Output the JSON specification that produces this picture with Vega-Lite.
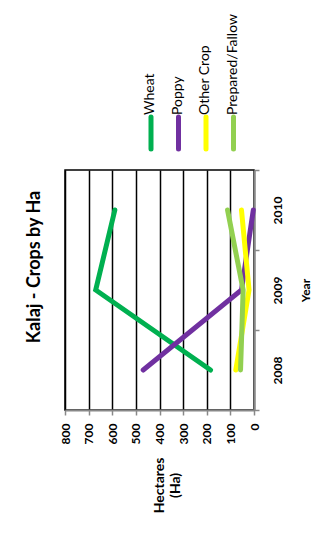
{
  "$schema": "https://vega.github.io/schema/vega-lite/v6.json",
  "width": 189,
  "height": 240,
  "autosize": "none",
  "padding": {"left": 65, "top": 170, "right": 80, "bottom": 132},
  "background": "white",
  "title": {
    "text": "Kalaj - Crops by Ha",
    "orient": "left",
    "anchor": "middle",
    "angle": -90,
    "font": "Lato",
    "fontSize": 18,
    "fontWeight": "bold",
    "color": "black",
    "offset": 15,
    "dx": 23
  },
  "data": {
    "values": [
      {"crop": "Wheat", "year": "2008", "ha": 184},
      {"crop": "Wheat", "year": "2009", "ha": 670},
      {"crop": "Wheat", "year": "2010", "ha": 589},
      {"crop": "Poppy", "year": "2008", "ha": 469},
      {"crop": "Poppy", "year": "2009", "ha": 53},
      {"crop": "Poppy", "year": "2010", "ha": 3},
      {"crop": "Other Crop", "year": "2008", "ha": 77},
      {"crop": "Other Crop", "year": "2009", "ha": 21},
      {"crop": "Other Crop", "year": "2010", "ha": 53},
      {"crop": "Prepared/Fallow", "year": "2008", "ha": 57},
      {"crop": "Prepared/Fallow", "year": "2009", "ha": 46},
      {"crop": "Prepared/Fallow", "year": "2010", "ha": 112}
    ]
  },
  "mark": {"type": "line", "strokeWidth": 5, "strokeCap": "round"},
  "encoding": {
    "x": {
      "field": "ha",
      "type": "quantitative",
      "scale": {"domain": [0, 800], "reverse": true, "nice": false},
      "axis": {
        "orient": "bottom",
        "values": [0, 100, 200, 300, 400, 500, 600, 700, 800],
        "grid": true,
        "gridColor": "black",
        "gridWidth": 1.5,
        "domainColor": "#888888",
        "domainWidth": 2,
        "tickColor": "#888888",
        "tickWidth": 1.5,
        "tickSize": 5,
        "labelAngle": -90,
        "labelAlign": "right",
        "labelBaseline": "middle",
        "labelFont": "Lato",
        "labelFontWeight": "bold",
        "labelFontSize": 12,
        "labelColor": "black",
        "labelPadding": 8,
        "title": ["Hectares", "(Ha)"],
        "titleAngle": -90,
        "titleAlign": "center",
        "titleBaseline": "middle",
        "titleFont": "Lato",
        "titleFontSize": 14,
        "titleFontWeight": "bold",
        "titleColor": "black",
        "titleLineHeight": 16,
        "titlePadding": 41
      }
    },
    "y": {
      "field": "year",
      "type": "ordinal",
      "sort": "descending",
      "scale": {"type": "band", "paddingInner": 0, "paddingOuter": 0},
      "bandPosition": 0.5,
      "axis": {
        "orient": "right",
        "tickBand": "extent",
        "grid": false,
        "domainColor": "#888888",
        "domainWidth": 2,
        "tickColor": "#888888",
        "tickWidth": 1.5,
        "tickSize": 5,
        "labelAngle": -90,
        "labelAlign": "center",
        "labelBaseline": "top",
        "labelFont": "Lato",
        "labelFontWeight": "bold",
        "labelFontSize": 12,
        "labelColor": "black",
        "labelPadding": 13,
        "title": "Year",
        "titleAngle": -90,
        "titleAlign": "center",
        "titleBaseline": "top",
        "titleFont": "Lato",
        "titleFontSize": 12,
        "titleFontWeight": "bold",
        "titleColor": "black",
        "titlePadding": 17
      }
    },
    "order": {"field": "year", "type": "ordinal"},
    "color": {
      "field": "crop",
      "type": "nominal",
      "scale": {
        "domain": ["Wheat", "Poppy", "Other Crop", "Prepared/Fallow"],
        "range": ["#00B050", "#7030A0", "#FFFF00", "#92D050"]
      },
      "legend": {
        "orient": "none",
        "legendX": 79,
        "legendY": -44,
        "direction": "horizontal",
        "title": null,
        "padding": 0,
        "columnPadding": 7.5,
        "symbolType": "M0,-16V16",
        "symbolSize": 4,
        "symbolStrokeWidth": 5,
        "labelFont": "Lato",
        "labelFontSize": 14,
        "labelColor": "black",
        "labelOffset": -7,
        "labelLimit": 0,
        "encode": {
          "symbols": {"update": {"strokeCap": {"value": "round"}}},
          "labels": {
            "update": {
              "angle": {"value": -90},
              "align": {"value": "left"},
              "baseline": {"value": "middle"},
              "dx": {"value": 18},
              "dy": {"value": -1}
            }
          }
        }
      }
    }
  },
  "config": {
    "view": {"stroke": "black", "strokeWidth": 1.5},
    "font": "Lato"
  }
}
